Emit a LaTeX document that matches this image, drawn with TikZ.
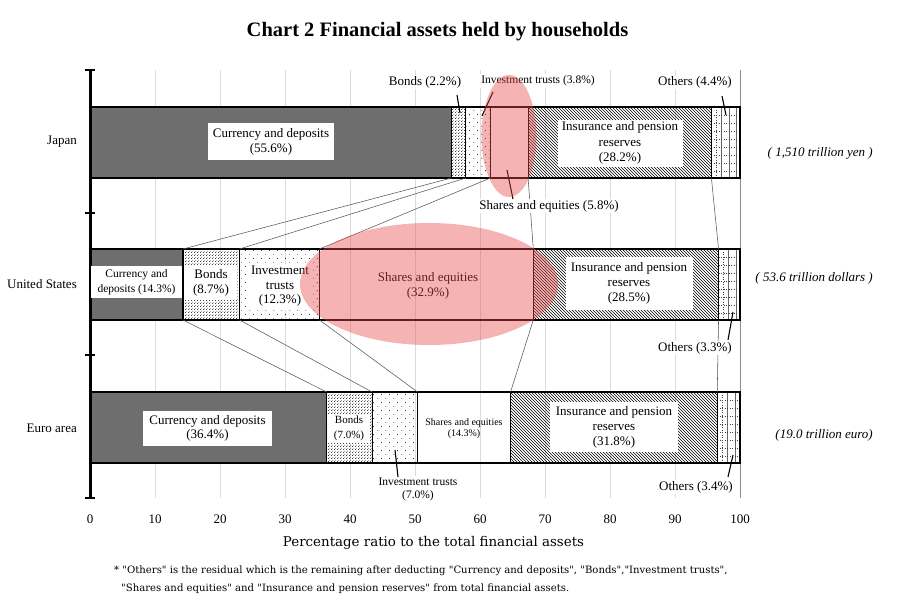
\documentclass[tikz,border=0pt]{standalone}
\usepackage{fontspec}
\setmainfont{Liberation Serif}
\newfontfamily\notefont{DejaVu Serif}
\usetikzlibrary{patterns,patterns.meta}
\newcommand\fs[2]{\fontsize{#1}{#2}\selectfont}
\definecolor{pinkred}{RGB}{235,75,75}
\tikzdeclarepattern{
  name=sparsedots, type=uncolored,
  bounding box={(0pt,0pt) and (8pt,8pt)},
  tile size={(8pt,8pt)},
  code={\fill (2pt,2pt) circle (0.55pt); \fill (6pt,6pt) circle (0.55pt);}
}
\tikzdeclarepattern{
  name=densedots, type=uncolored,
  bounding box={(0pt,0pt) and (2.6pt,2.6pt)},
  tile size={(2.6pt,2.6pt)},
  code={\fill (0.65pt,0.65pt) circle (0.5pt); \fill (1.95pt,1.95pt) circle (0.4pt);}
}
\tikzset{
  cdfill/.style={fill=black!57},
  gridl/.style={draw=black!14, line width=0.6pt},
  gridlast/.style={draw=black!45, line width=0.7pt},
  divider/.style={draw=black, line width=1.1pt},
  barframe/.style={draw=black, line width=1.3pt},
  conn/.style={draw=black!65, line width=0.55pt},
  ptr/.style={draw=black, line width=1.1pt},
  wbox/.style={fill=white, inner sep=0pt, align=center},
  txt/.style={inner sep=0pt, align=center},
  lbl/.style={fill=white, inner sep=1.5pt, align=center, font=\fs{13}{15}},
  rowl/.style={anchor=east, inner sep=0pt, font=\fs{13}{15}},
  tot/.style={anchor=east, inner sep=0pt, font=\itshape\fs{13}{15}},
  pinkov/.style={fill=pinkred, fill opacity=0.42},
  othgrid/.style={draw=black!60, line width=0.5pt},
  othdot/.style={draw=black!75, line width=0.5pt, dotted},
}
% #1 prefix, #2 top, #3 bottom, #4..#8 segment boundaries
\newcommand\assetbar[8]{%
  \fill[cdfill] (90,#2) rectangle (#4,#3);
  \fill[pattern=densedots] (#4,#2) rectangle (#5,#3);
  \fill[pattern=sparsedots] (#5,#2) rectangle (#6,#3);
  \fill[pattern=north west lines] (#7,#2) rectangle (#8,#3);
  \begin{scope}
    \clip (#8,#2) rectangle (740,#3);
    \foreach \gx in {10,17.5,25} \draw[othgrid] ({#8+\gx},#2) -- ({#8+\gx},#3);
    \foreach \gx in {5} \draw[othdot] ({#8+\gx},#2) -- ({#8+\gx},#3);
    \foreach \gy in {8,16,...,64} \draw[othdot] (#8,{#2+\gy}) -- (740,{#2+\gy});
  \end{scope}
  \foreach \b/\k in {#4/1,#5/2,#6/3,#7/4,#8/5} {
    \coordinate (#1t\k) at (\b,#2);
    \coordinate (#1b\k) at (\b,#3);
    \draw[divider] (#1t\k) -- (#1b\k);
  }
  \draw[barframe] (90,#2) rectangle (740,#3);
}
\begin{document}
\begin{tikzpicture}[x=1pt,y=-1pt]
\useasboundingbox (0,0) rectangle (900,608);
\fill[white] (0,0) rectangle (900,608);

% title
\node[inner sep=0pt, font=\bfseries\fs{20.5}{24}] (title) at (437.5,32) {Chart 2 Financial assets held by households};

% grid lines
\foreach \i in {1,...,9} \draw[gridl] ({90+65*\i},70) -- ({90+65*\i},498);
\draw[gridlast] (740,70) -- (740,498);

% bars
\assetbar{j}{107}{178}{451.4}{465.7}{490.4}{528.1}{711.4}
\assetbar{u}{249}{320}{182.95}{239.5}{319.45}{533.3}{718.55}
\assetbar{e}{392}{463}{326.6}{372.1}{417.6}{510.55}{717.25}

% connectors between bars
\foreach \k in {1,...,5} \draw[conn] (jb\k) -- (ut\k);
\foreach \k in {1,...,5} \draw[conn] (ub\k) -- (et\k);

% axis
\draw[line width=3pt] (90,70) -- (90,498);
\foreach \ty in {70,213,355,498} \draw[line width=2pt] (85,\ty) -- (95,\ty);

% tick labels
\foreach \i in {0,...,10} {
  \pgfmathtruncatemacro\tv{10*\i}
  \node[inner sep=0pt, font=\fs{13}{15}] (tk\i) at ({90+65*\i},519) {\tv};
}
\node[inner sep=0pt, font=\notefont\fs{13.4}{16}] (xtitle) at (433.5,543) {Percentage ratio to the total financial assets};

% row labels
\node[rowl] (rj) at (77,142) {Japan};
\node[rowl] (ru) at (77,284) {United States};
\node[rowl] (re) at (77,428) {Euro area};

% totals
\node[tot] (tj) at (873,153) {( 1,510 trillion yen )};
\node[tot] (tu) at (873,278) {( 53.6 trillion dollars )};
\node[tot] (te) at (873,435) {(19.0 trillion euro)};

% Japan labels
\node[wbox, minimum width=126, minimum height=37, font=\fs{13}{15}] (jcd) at (271,141.5) {Currency and deposits\\(55.6\%)};
\node[wbox, minimum width=125, minimum height=47, font=\fs{13}{15.5}] (jins) at (620,143) {Insurance and pension\\reserves\\(28.2\%)};
\node[lbl] (lbj) at (425,82) {Bonds (2.2\%)};
\node[lbl, font=\fs{11.5}{13}] (lij) at (538,81) {Investment trusts (3.8\%)};
\node[lbl] (loj) at (695,82) {Others (4.4\%)};
\node[lbl] (lsj) at (549,206) {Shares and equities (5.8\%)};
\coordinate (bj0) at (457,95);   \coordinate (bj1) at (460,113);
\coordinate (ij0) at (493,92);   \coordinate (ij1) at (482,116);
\coordinate (oj0) at (722,96);   \coordinate (oj1) at (726,115);
\coordinate (sj0) at (513,199);  \coordinate (sj1) at (507,170);
\draw[ptr] (bj0) -- (bj1);
\draw[ptr] (ij0) -- (ij1);
\draw[ptr] (oj0) -- (oj1);
\draw[ptr] (sj0) -- (sj1);

% United States labels
\node[wbox, minimum width=91, minimum height=32, font=\fs{11.5}{14.5}] (ucd) at (136.5,282) {Currency and\\deposits (14.3\%)};
\node[wbox, minimum width=52, minimum height=35, font=\fs{13}{15}] (ubd) at (211,282.5) {Bonds\\(8.7\%)};
\node[wbox, minimum width=64, minimum height=46, font=\fs{13}{14.5}] (uit) at (280,286.5) {Investment\\trusts\\(12.3\%)};
\node[txt, font=\fs{13}{15}] (use) at (428,285.5) {Shares and equities\\(32.9\%)};
\node[wbox, minimum width=127, minimum height=53, font=\fs{13}{15}] (uins) at (629,283) {Insurance and pension\\reserves\\(28.5\%)};
\node[lbl] (lou) at (695,348) {Others (3.3\%)};
\coordinate (ou0) at (728,340); \coordinate (ou1) at (733,312);
\draw[ptr] (ou0) -- (ou1);

% Euro area labels
\node[wbox, minimum width=129, minimum height=35, font=\fs{13}{14}] (ecd) at (207.5,428) {Currency and deposits\\(36.4\%)};
\node[wbox, minimum width=42, minimum height=28, font=\fs{11}{14.5}] (ebd) at (349,428.5) {Bonds\\(7.0\%)};
\node[txt, font=\fs{10}{11.5}] (ese) at (464,428.5) {Shares and equities\\(14.3\%)};
\node[wbox, minimum width=128, minimum height=50, font=\fs{13}{15}] (eins) at (614,427) {Insurance and pension\\reserves\\(31.8\%)};
\node[lbl, font=\fs{11.5}{13.5}] (lie) at (418,489.5) {Investment trusts\\(7.0\%)};
\node[lbl] (loe) at (696,487) {Others (3.4\%)};
\coordinate (ie0) at (395,450); \coordinate (ie1) at (398,477);
\coordinate (oe0) at (728,477); \coordinate (oe1) at (733,455);
\draw[ptr] (ie0) -- (ie1);
\draw[ptr] (oe0) -- (oe1);

% highlight ellipses
\fill[pinkov] (509,136) ellipse [x radius=27.5pt, y radius=61pt];
\fill[pinkov] (429,284) ellipse [x radius=129pt, y radius=61pt];

% footnote
\node[anchor=west, inner sep=0pt, font=\notefont\fs{10.1}{12}] (fn1) at (114,571) {* "Others" is the residual which is the remaining after deducting "Currency and deposits", "Bonds","Investment trusts",};
\node[anchor=west, inner sep=0pt, font=\notefont\fs{10.1}{12}] (fn2) at (121,589) {"Shares and equities" and "Insurance and pension reserves" from total financial assets.};
\end{tikzpicture}
\end{document}
